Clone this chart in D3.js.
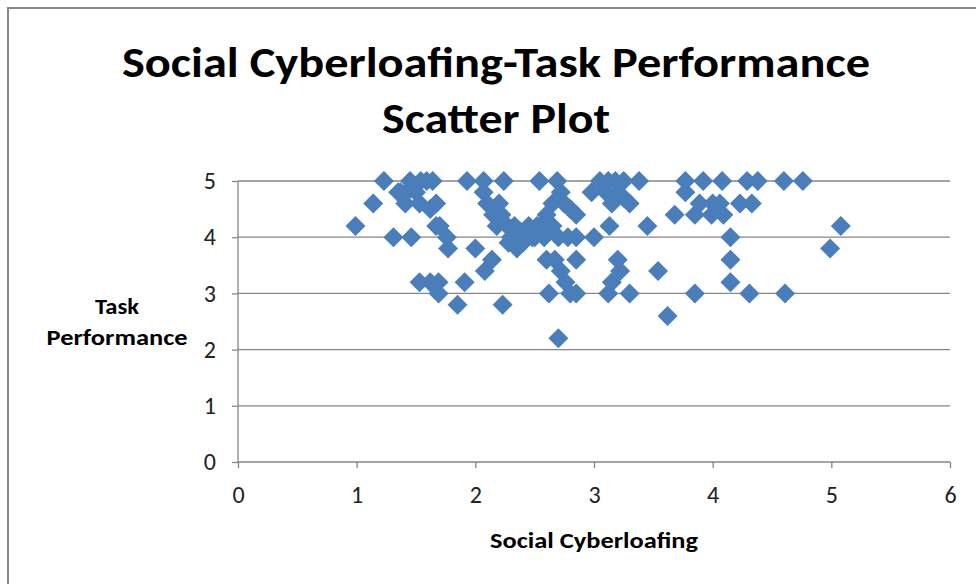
<!DOCTYPE html>
<html>
<head>
<meta charset="utf-8">
<script src="https://cdn.jsdelivr.net/npm/d3@7"></script>
<style>
  html, body { margin: 0; padding: 0; background: #fff; }
  svg { display: block; }
</style>
</head>
<body>
<svg id="chart" width="976" height="584"></svg>
<script>
// ---- data ----
const socialCyberloafing = [
  0.99, 1.14, 1.23, 1.31, 1.37, 1.41, 1.45, 1.46, 1.53, 1.54, 1.59, 1.64, 1.67, 1.67, 1.76, 1.77,
  1.53, 1.62, 1.69, 1.69, 1.42, 1.35, 1.50, 1.62, 1.70,
  1.85, 1.91, 1.93, 2.00, 2.08, 2.07, 2.07, 2.10, 2.14, 2.23,
  2.24, 2.20, 2.15, 2.22, 2.18, 2.27, 2.30, 2.35, 2.40, 2.45, 2.50, 2.55, 2.54, 2.60, 2.65,
  2.69, 2.72, 2.75, 2.80, 2.85, 2.65, 2.70, 2.78, 2.85, 3.00, 2.60, 2.67, 2.72, 2.76, 2.62,
  2.80, 2.85, 2.70, 2.85, 2.33, 2.48, 2.58, 2.38, 2.43, 2.52, 2.28,
  2.98, 3.05, 3.12, 3.18, 3.25, 3.10, 3.20, 3.15, 3.25, 3.30, 3.13, 3.20, 3.22, 3.15, 3.12,
  3.30, 3.38, 3.45, 3.54, 3.62,
  3.68, 3.77, 3.77, 3.85, 3.85, 3.89, 3.92, 3.99, 4.00, 4.06, 4.08, 4.09, 4.15, 4.15, 4.15,
  4.23, 4.29, 4.31, 4.33, 4.38, 4.60, 4.61, 4.76, 4.99, 5.08
];
const taskPerformance = [
  4.2, 4.6, 5.0, 4.0, 4.8, 4.6, 5.0, 4.0, 4.6, 5.0, 5.0, 5.0, 4.6, 4.2, 4.0, 3.8,
  3.2, 3.2, 3.2, 3.0, 4.8, 4.8, 4.8, 4.5, 4.2,
  2.8, 3.2, 5.0, 3.8, 3.4, 5.0, 4.8, 4.6, 3.6, 2.8,
  5.0, 4.6, 4.4, 4.4, 4.2, 4.2, 4.0, 3.8, 3.9, 4.2, 4.0, 4.2, 5.0, 4.4, 4.6,
  5.0, 4.8, 4.6, 4.5, 4.4, 4.2, 4.0, 4.0, 4.0, 4.0, 3.6, 3.6, 3.4, 3.2, 3.0,
  3.0, 3.0, 2.2, 3.6, 4.2, 4.0, 4.0, 4.1, 4.0, 4.2, 3.9,
  4.8, 5.0, 5.0, 5.0, 5.0, 4.8, 4.8, 4.6, 4.7, 4.6, 4.2, 3.6, 3.4, 3.2, 3.0,
  3.0, 5.0, 4.2, 3.4, 2.6,
  4.4, 5.0, 4.8, 4.4, 3.0, 4.6, 5.0, 4.4, 4.6, 4.6, 5.0, 4.4, 4.0, 3.6, 3.2,
  4.6, 5.0, 3.0, 4.6, 5.0, 5.0, 3.0, 5.0, 3.8, 4.2
];
const xTicks = [0, 1, 2, 3, 4, 5, 6];
const yTicks = [0, 1, 2, 3, 4, 5];
const titleLines = ["Social Cyberloafing-Task Performance", "Scatter Plot"];
const xAxisTitle = "Social Cyberloafing";
const yAxisTitleLines = ["Task", "Performance"];

// ---- layout ----
const svg = d3.select("#chart");
const W = 976, H = 584;
const plot = { left: 238, right: 950, top: 181, bottom: 462 };
const gridColor = "#868686";
const markColor = "#4A7EBB";
const fontMain = "Carlito, Calibri, 'Liberation Sans Narrow', Lato, sans-serif";

svg.append("rect").attr("width", W).attr("height", H).attr("fill", "#fff");
svg.append("rect")
  .attr("x", 8).attr("y", 8).attr("width", W + 10).attr("height", H + 10)
  .attr("fill", "none").attr("stroke", "#888").attr("stroke-width", 2);

const x = d3.scaleLinear().domain([0, 6]).range([plot.left, plot.right]);
const y = d3.scaleLinear().domain([0, 5]).range([plot.bottom, plot.top]);

svg.append("g").selectAll("line").data(yTicks.filter(d => d > 0)).join("line")
  .attr("x1", plot.left).attr("x2", plot.right)
  .attr("y1", d => y(d)).attr("y2", d => y(d))
  .attr("stroke", gridColor).attr("stroke-width", 1.3);

const xAxis = d3.axisBottom(x).tickValues(xTicks).tickSize(6).tickPadding(18).tickFormat(d3.format("d"));
const yAxis = d3.axisLeft(y).tickValues(yTicks).tickSize(6).tickPadding(16).tickFormat(d3.format("d"));

const gx = svg.append("g").attr("transform", `translate(0,${plot.bottom})`).call(xAxis);
const gy = svg.append("g").attr("transform", `translate(${plot.left},0)`).call(yAxis);
[gx, gy].forEach(g => {
  g.attr("font-size", null).attr("font-family", null);
  g.select(".domain").attr("stroke", gridColor).attr("stroke-width", 1.3);
  g.selectAll(".tick line").attr("stroke", gridColor).attr("stroke-width", 1.3);
  g.selectAll(".tick text").attr("fill", "#222")
    .style("font-size", "24px").style("font-family", fontMain);
});
gx.select(".domain").attr("d", `M${plot.left},0H${plot.right}`);
gy.select(".domain").attr("d", `M0,${plot.bottom}V${plot.top}`);

const pts = socialCyberloafing.map((v, i) => ({ x: v, y: taskPerformance[i] }));
const diamond = d3.symbol().type(d3.symbolSquare).size(200);
svg.append("g").selectAll("path").data(pts).join("path")
  .attr("d", diamond)
  .attr("transform", d => `translate(${x(d.x)},${y(d.y)}) rotate(45)`)
  .attr("fill", markColor);

const title = svg.append("g").attr("font-family", fontMain).attr("font-weight", "bold")
  .attr("font-size", 42).attr("fill", "#000").attr("text-anchor", "middle");
title.append("text").attr("x", 496).attr("y", 77).text(titleLines[0])
  .attr("textLength", 748).attr("lengthAdjust", "spacingAndGlyphs");
title.append("text").attr("x", 496).attr("y", 133).text(titleLines[1])
  .attr("textLength", 228).attr("lengthAdjust", "spacingAndGlyphs");

svg.append("text").attr("x", 594).attr("y", 548).attr("text-anchor", "middle")
  .attr("font-family", fontMain).attr("font-weight", "bold").attr("font-size", 22)
  .attr("fill", "#000").text(xAxisTitle)
  .attr("textLength", 208).attr("lengthAdjust", "spacingAndGlyphs");
const yt = svg.append("g").attr("font-family", fontMain).attr("font-weight", "bold")
  .attr("font-size", 22).attr("fill", "#000").attr("text-anchor", "middle");
yt.append("text").attr("x", 117).attr("y", 314).text(yAxisTitleLines[0])
  .attr("textLength", 44).attr("lengthAdjust", "spacingAndGlyphs");
yt.append("text").attr("x", 117).attr("y", 345).text(yAxisTitleLines[1])
  .attr("textLength", 141).attr("lengthAdjust", "spacingAndGlyphs");
</script>
</body>
</html>
